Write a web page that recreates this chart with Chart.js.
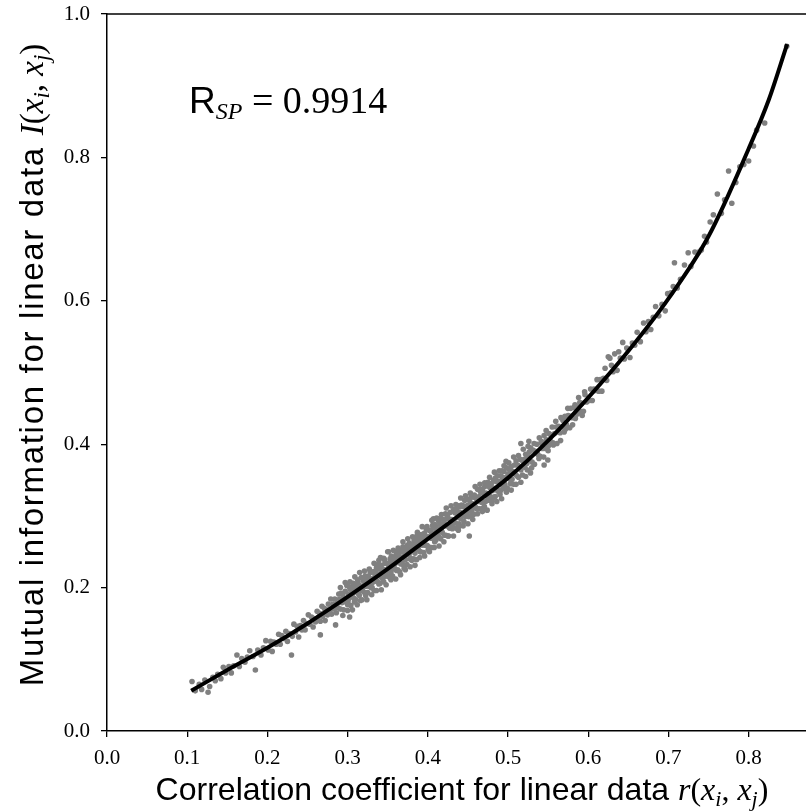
<!DOCTYPE html>
<html>
<head>
<meta charset="utf-8">
<script src="https://cdn.jsdelivr.net/npm/chart.js@4/dist/chart.umd.min.js"></script>
<style>
  html, body { margin: 0; padding: 0; background: #fff; overflow: hidden; }
  canvas { display: block; }
</style>
</head>
<body>
<canvas id="chart" width="812" height="812"></canvas>
<script>
// correlation r(xi,xj) of each pair
const corrR = [
  // 0.10 - 0.20
  0.106,0.110,0.115,0.118,0.122,0.126,0.128,0.132,0.135,0.138,0.142,0.145,0.148,0.152,0.155,0.158,0.162,0.165,0.168,0.172,0.175,0.178,0.182,0.185,0.188,0.192,0.195,0.198,
  // 0.20 - 0.29
  0.201,0.204,0.206,0.208,0.211,0.214,0.216,0.218,0.221,0.223,0.225,0.227,0.230,0.231,0.233,0.235,0.237,0.239,0.241,0.243,
  0.245,0.247,0.249,0.251,0.253,0.255,0.257,0.258,0.260,0.262,0.263,0.265,0.266,0.268,0.269,0.271,0.272,0.274,0.275,0.276,
  0.278,0.279,0.280,0.282,0.283,0.284,0.286,0.287,0.288,0.289,
  // 0.29 - 0.36
  0.290,0.291,0.292,0.293,0.294,0.295,0.296,0.297,0.298,0.299,
  0.300,0.301,0.302,0.303,0.304,0.305,0.306,0.307,0.308,0.309,
  0.310,0.311,0.312,0.313,0.314,0.315,0.316,0.317,0.318,0.319,
  0.320,0.321,0.322,0.323,0.324,0.325,0.326,0.327,0.328,0.329,
  0.330,0.331,0.332,0.333,0.334,0.335,0.336,0.337,0.338,0.339,
  0.340,0.341,0.342,0.343,0.344,0.345,0.346,0.347,0.348,0.349,
  0.350,0.351,0.352,0.353,0.354,0.355,0.356,0.357,0.358,0.359,
  // 0.36 - 0.45
  0.360,0.361,0.362,0.363,0.364,0.365,0.366,0.367,0.368,0.369,
  0.370,0.371,0.372,0.373,0.374,0.375,0.376,0.377,0.378,0.379,
  0.380,0.381,0.382,0.383,0.384,0.385,0.386,0.387,0.388,0.389,
  0.390,0.391,0.392,0.393,0.394,0.395,0.396,0.397,0.398,0.399,
  0.400,0.401,0.402,0.403,0.404,0.405,0.406,0.407,0.408,0.409,
  0.410,0.411,0.412,0.413,0.414,0.415,0.416,0.417,0.418,0.419,
  0.420,0.421,0.422,0.423,0.424,0.425,0.426,0.427,0.428,0.429,
  0.430,0.431,0.432,0.433,0.434,0.435,0.436,0.437,0.438,0.439,
  0.440,0.441,0.442,0.443,0.444,0.445,0.446,0.447,0.448,0.449,
  // 0.45 - 0.52
  0.450,0.451,0.452,0.453,0.454,0.455,0.456,0.457,0.458,0.459,
  0.460,0.461,0.462,0.463,0.464,0.465,0.466,0.467,0.468,0.469,
  0.470,0.471,0.472,0.473,0.474,0.475,0.476,0.477,0.478,0.479,
  0.480,0.481,0.482,0.483,0.484,0.485,0.486,0.487,0.488,0.489,
  0.490,0.491,0.492,0.493,0.494,0.495,0.496,0.497,0.498,0.499,
  0.500,0.501,0.502,0.503,0.504,0.505,0.506,0.507,0.508,0.509,
  0.510,0.511,0.512,0.513,0.514,0.515,0.516,0.517,0.518,0.519,
  // dense band again, 0.30 - 0.50
  0.3005,0.3025,0.3045,0.3065,0.3085,0.3105,0.3125,0.3145,0.3165,0.3185,
  0.3205,0.3225,0.3245,0.3265,0.3285,0.3305,0.3325,0.3345,0.3365,0.3385,
  0.3405,0.3425,0.3445,0.3465,0.3485,0.3505,0.3525,0.3545,0.3565,0.3585,
  0.3605,0.3625,0.3645,0.3665,0.3685,0.3705,0.3725,0.3745,0.3765,0.3785,
  0.3805,0.3825,0.3845,0.3865,0.3885,0.3905,0.3925,0.3945,0.3965,0.3985,
  0.4005,0.4025,0.4045,0.4065,0.4085,0.4105,0.4125,0.4145,0.4165,0.4185,
  0.4205,0.4225,0.4245,0.4265,0.4285,0.4305,0.4325,0.4345,0.4365,0.4385,
  0.4405,0.4425,0.4445,0.4465,0.4485,0.4505,0.4525,0.4545,0.4565,0.4585,
  0.4605,0.4625,0.4645,0.4665,0.4685,0.4705,0.4725,0.4745,0.4765,0.4785,
  0.4805,0.4825,0.4845,0.4865,0.4885,0.4905,0.4925,0.4945,0.4965,0.4985,
  // upper and lower edges of the dense band
  0.291,0.294,0.297,0.300,0.303,0.306,0.309,0.312,0.315,0.318,
  0.321,0.324,0.327,0.330,0.333,0.336,0.339,0.342,0.345,0.348,
  0.351,0.354,0.357,0.360,0.363,0.366,0.369,0.372,0.375,0.378,
  0.381,0.384,0.387,0.390,0.393,0.396,0.399,0.402,0.405,0.408,
  0.411,0.414,0.417,0.420,0.423,0.426,0.429,0.432,0.435,0.438,
  0.441,0.444,0.447,0.450,0.453,0.456,0.459,0.462,0.465,0.468,
  0.471,0.474,0.477,0.480,0.483,0.486,0.489,0.492,0.495,0.498,
  0.501,0.504,0.507,0.510,0.513,0.516,0.519,0.522,0.525,0.528,
  // 0.52 - 0.60
  0.521,0.522,0.524,0.525,0.527,0.528,0.530,0.531,0.533,0.534,
  0.536,0.537,0.539,0.540,0.542,0.543,0.545,0.547,0.548,0.550,
  0.551,0.553,0.555,0.556,0.558,0.560,0.561,0.563,0.565,0.566,
  0.568,0.570,0.571,0.573,0.575,0.577,0.578,0.580,0.582,0.584,
  0.586,0.588,0.590,0.592,0.594,0.596,0.598,
  0.5205,0.5235,0.5265,0.5295,0.5325,0.5355,0.5385,0.5415,0.5445,0.5475,
  0.5505,0.5535,0.5565,0.5595,0.5625,0.5655,0.5685,0.5715,0.5745,0.5775,
  0.5805,0.5835,0.5865,0.5895,0.5925,0.5955,0.5985,
  // 0.60 - 0.70
  0.601,0.603,0.605,0.607,0.609,0.611,0.613,0.615,0.617,0.619,
  0.621,0.623,0.625,0.627,0.629,0.631,0.633,0.636,0.638,0.640,
  0.643,0.645,0.648,0.652,0.655,0.658,0.661,0.665,0.669,0.672,
  0.675,0.678,0.681,0.684,0.688,0.692,0.696,0.699,
  // 0.70 - 0.85
  0.703,0.706,0.7075,0.711,0.715,0.720,0.7246,0.728,0.733,0.738,
  0.741,0.745,0.7475,0.752,0.756,0.761,0.766,0.770,0.775,0.779,
  0.784,0.789,0.794,0.800,0.806,0.810,0.820,0.8475,
  // stray points
  0.4517,0.407,0.350,0.341,0.516,0.526,0.545,0.5496,0.4975,0.266,0.285,0.3025
];

// mutual information I(xi,xj) of the same pairs
const mutualInfo = [
  0.069,0.056,0.065,0.058,0.071,0.054,0.062,0.075,0.070,0.079,0.073,0.089,0.081,0.090,0.081,0.091,0.106,0.090,0.101,0.096,0.103,0.112,0.104,0.085,0.113,0.106,0.116,0.126,
  0.113,0.125,0.111,0.124,0.121,0.135,0.121,0.133,0.129,0.139,0.125,0.136,0.106,0.132,0.149,0.138,0.146,0.131,0.147,0.141,
  0.154,0.141,0.150,0.162,0.149,0.159,0.145,0.157,0.152,0.167,0.158,0.164,0.153,0.174,0.160,0.171,0.154,0.169,0.162,0.177,
  0.168,0.184,0.163,0.177,0.170,0.184,0.165,0.178,0.172,0.191,
  0.184,0.170,0.192,0.179,0.190,0.169,0.185,0.195,0.180,0.203,
  0.176,0.191,0.185,0.198,0.175,0.197,0.191,0.206,0.185,0.196,
  0.183,0.204,0.193,0.208,0.191,0.203,0.182,0.214,0.196,0.201,
  0.209,0.193,0.216,0.202,0.209,0.193,0.216,0.202,0.223,0.200,
  0.212,0.207,0.222,0.196,0.219,0.213,0.228,0.208,0.219,0.205,
  0.226,0.216,0.231,0.213,0.226,0.208,0.239,0.219,0.225,0.234,
  0.216,0.231,0.226,0.240,0.221,0.236,0.216,0.242,0.228,0.235,
  0.240,0.224,0.249,0.235,0.246,0.222,0.242,0.251,0.234,0.257,
  0.231,0.244,0.239,0.255,0.232,0.254,0.246,0.262,0.240,0.254,
  0.238,0.260,0.252,0.266,0.248,0.260,0.239,0.273,0.254,0.261,
  0.269,0.250,0.274,0.259,0.269,0.249,0.276,0.259,0.283,0.259,
  0.271,0.257,0.280,0.270,0.278,0.256,0.287,0.269,0.276,0.288,
  0.266,0.281,0.275,0.294,0.271,0.289,0.268,0.285,0.277,0.295,
  0.290,0.273,0.303,0.286,0.297,0.272,0.296,0.283,0.305,0.289,
  0.295,0.284,0.307,0.291,0.304,0.283,0.309,0.298,0.314,0.289,
  0.305,0.296,0.315,0.302,0.313,0.292,0.322,0.302,0.311,0.301,
  0.315,0.299,0.322,0.310,0.328,0.307,0.317,0.302,0.329,0.313,
  0.326,0.310,0.337,0.320,0.327,0.310,0.333,0.319,0.337,0.311,
  0.331,0.341,0.320,0.330,0.327,0.347,0.322,0.340,0.327,0.345,
  0.322,0.339,0.350,0.338,0.327,0.348,0.336,0.356,0.334,0.348,
  0.330,0.356,0.343,0.354,0.338,0.362,0.344,0.352,0.367,0.339,
  0.358,0.352,0.364,0.345,0.369,0.351,0.362,0.344,0.371,0.358,
  0.377,0.356,0.371,0.354,0.369,0.379,0.364,0.378,0.357,0.376,
  0.180,0.201,0.189,0.200,0.180,0.200,0.211,0.189,0.201,0.197,
  0.212,0.189,0.211,0.205,0.221,0.200,0.213,0.223,0.209,0.233,
  0.206,0.224,0.214,0.234,0.222,0.233,0.214,0.244,0.226,0.233,
  0.246,0.225,0.241,0.233,0.250,0.227,0.251,0.259,0.246,0.241,
  0.256,0.240,0.270,0.253,0.266,0.250,0.264,0.274,0.259,0.281,
  0.253,0.271,0.269,0.284,0.264,0.284,0.271,0.296,0.281,0.288,
  0.294,0.273,0.301,0.286,0.295,0.282,0.309,0.290,0.305,0.285,
  0.313,0.302,0.314,0.299,0.324,0.307,0.314,0.301,0.326,0.312,
  0.324,0.310,0.337,0.322,0.333,0.313,0.332,0.343,0.325,0.344,
  0.335,0.326,0.353,0.337,0.347,0.335,0.363,0.341,0.353,0.338,
  0.200,0.161,0.207,0.168,0.208,0.169,0.215,0.176,0.221,0.183,
  0.223,0.183,0.226,0.190,0.234,0.196,0.238,0.197,0.241,0.204,
  0.250,0.211,0.252,0.212,0.255,0.218,0.264,0.225,0.268,0.229,
  0.271,0.231,0.277,0.242,0.285,0.244,0.285,0.250,0.294,0.256,
  0.297,0.258,0.302,0.264,0.311,0.272,0.314,0.272,0.316,0.280,
  0.325,0.286,0.328,0.289,0.332,0.295,0.341,0.303,0.344,0.306,
  0.346,0.308,0.354,0.317,0.361,0.320,0.363,0.324,0.370,0.333,
  0.374,0.336,0.382,0.344,0.384,0.347,0.393,0.355,0.397,0.360,
  0.368,0.386,0.364,0.382,0.378,0.395,0.375,0.392,0.372,0.390,
  0.400,0.386,0.409,0.383,0.401,0.394,0.412,0.394,0.406,0.391,
  0.415,0.404,0.424,0.402,0.415,0.424,0.401,0.425,0.416,0.437,
  0.424,0.417,0.439,0.427,0.440,0.423,0.450,0.437,0.451,0.436,
  0.452,0.465,0.446,0.457,0.446,0.469,0.459,
  0.379,0.373,0.389,0.367,0.401,0.388,0.380,0.404,0.382,0.419,
  0.398,0.413,0.399,0.432,0.417,0.405,0.433,0.421,0.450,0.439,
  0.427,0.455,0.442,0.458,0.440,0.473,0.460,
  0.461,0.477,0.461,0.477,0.475,0.490,0.474,0.490,0.474,0.492,
  0.506,0.489,0.522,0.520,0.510,0.501,0.526,0.503,0.529,0.520,
  0.542,0.519,0.534,0.521,0.541,0.538,0.556,0.543,0.569,0.557,
  0.571,0.560,0.577,0.592,0.579,0.595,0.586,0.610,
  0.611,0.620,0.653,0.618,0.630,0.650,0.667,0.648,0.668,0.668,
  0.671,0.690,0.682,0.710,0.720,0.749,0.722,0.741,0.781,0.736,
  0.765,0.787,0.790,0.795,0.816,0.838,0.848,0.955,
  0.272,0.296,0.250,0.242,0.401,0.404,0.371,0.378,0.376,0.134,0.148,0.159
];

// black fitted curve
const fitR = [0.105, 0.15, 0.2, 0.25, 0.3, 0.35, 0.4, 0.45, 0.5, 0.55, 0.6, 0.65, 0.7, 0.75, 0.8, 0.825, 0.848];
const fitI = [0.056, 0.085, 0.116, 0.150, 0.187, 0.226, 0.268, 0.310, 0.353, 0.405, 0.465, 0.530, 0.603, 0.690, 0.812, 0.880, 0.958];

const xTitle = 'Correlation coefficient for linear data ';
const yTitle = 'Mutual information for linear data ';
const spearman = '0.9914';

const SANS = '"Liberation Sans", Arial, sans-serif';
const SERIF = '"Liberation Serif", "Times New Roman", serif';

// draws a run of text pieces (plain / italic / subscript) one after another
function drawRuns(ctx, runs, x, y, align) {
  let total = 0;
  runs.forEach(r => {
    ctx.font = r.font;
    ctx.letterSpacing = r.ls || '0px';
    total += ctx.measureText(r.t).width;
  });
  let cx = align === 'center' ? x - total / 2 : x;
  runs.forEach(r => {
    ctx.font = r.font;
    ctx.letterSpacing = r.ls || '0px';
    ctx.fillText(r.t, cx, y + (r.dy || 0));
    cx += ctx.measureText(r.t).width;
  });
  ctx.letterSpacing = '0px';
}

function mathArgs(size) {
  const it = 'italic ' + size + 'px ' + SERIF;
  const rm = size + 'px ' + SERIF;
  const sub = 'italic ' + Math.round(size * 0.7) + 'px ' + SERIF;
  return [
    { t: '(', font: rm },
    { t: 'x', font: it }, { t: 'i', font: sub, dy: 6 },
    { t: ', ', font: rm },
    { t: 'x', font: it }, { t: 'j', font: sub, dy: 6 },
    { t: ')', font: rm }
  ];
}

const textPlugin = {
  id: 'texts',
  afterDraw(chart) {
    const ctx = chart.ctx;
    const area = chart.chartArea;
    ctx.save();
    // top spine
    ctx.strokeStyle = '#000';
    ctx.lineWidth = 1.5;
    ctx.beginPath();
    ctx.moveTo(area.left, area.top);
    ctx.lineTo(chart.width, area.top);
    ctx.stroke();

    ctx.fillStyle = '#000';
    ctx.textBaseline = 'alphabetic';
    ctx.textAlign = 'left';

    // x axis title
    drawRuns(ctx, [{ t: xTitle, font: '32px ' + SANS }, { t: 'r', font: 'italic 32px ' + SERIF }].concat(mathArgs(32)),
      462, 800, 'center');

    // y axis title, rotated
    ctx.save();
    ctx.translate(43, 365);
    ctx.rotate(-Math.PI / 2);
    drawRuns(ctx, [{ t: yTitle, font: '33px ' + SANS, ls: '1.7px' }, { t: 'I', font: 'italic 33px ' + SERIF }].concat(mathArgs(33)),
      0, 0, 'center');
    ctx.restore();

    // R_SP annotation
    drawRuns(ctx, [
      { t: 'R', font: '37px ' + SANS },
      { t: 'SP', font: 'italic 24px ' + SERIF, dy: 6 },
      { t: ' = ' + spearman, font: '38px ' + SERIF }
    ], 189, 113, 'left');
    ctx.restore();
  }
};

const scatterData = corrR.map((r, i) => ({ x: r, y: mutualInfo[i] }));
const fitData = fitR.map((r, i) => ({ x: r, y: fitI[i] }));

const tickFont = { family: SERIF, size: 21 };

new Chart(document.getElementById('chart'), {
  type: 'scatter',
  data: {
    datasets: [
      {
        type: 'line',
        data: fitData,
        borderColor: '#000',
        borderWidth: 4,
        pointRadius: 0,
        fill: false,
        cubicInterpolationMode: 'monotone'
      },
      {
        data: scatterData,
        backgroundColor: '#808080',
        borderWidth: 0,
        pointRadius: 2.8
      }
    ]
  },
  options: {
    responsive: false,
    animation: false,
    devicePixelRatio: 1,
    layout: { padding: { top: 14, right: 0, left: 0, bottom: 0 } },
    plugins: { legend: { display: false }, tooltip: { enabled: false } },
    scales: {
      x: {
        type: 'linear',
        min: 0,
        max: 0.874,
        ticks: {
          stepSize: 0.1,
          includeBounds: false,
          color: '#000',
          font: tickFont,
          padding: 9,
          maxRotation: 0,
          callback: v => v.toFixed(1)
        },
        grid: { drawOnChartArea: false, drawTicks: true, tickLength: 6, color: '#000', lineWidth: 1.3 },
        border: { color: '#000', width: 1.5 },
        afterFit: s => { s.height = 81; s.paddingLeft = 0; s.paddingRight = 0; }
      },
      y: {
        min: 0,
        max: 1,
        ticks: {
          stepSize: 0.2,
          color: '#000',
          font: tickFont,
          padding: 11,
          callback: v => v.toFixed(1)
        },
        grid: { drawOnChartArea: false, drawTicks: true, tickLength: 6, color: '#000', lineWidth: 1.3 },
        border: { color: '#000', width: 1.5 },
        afterFit: s => { s.width = 107; s.paddingTop = 0; s.paddingBottom = 0; }
      }
    }
  },
  plugins: [textPlugin]
});
</script>
</body>
</html>
